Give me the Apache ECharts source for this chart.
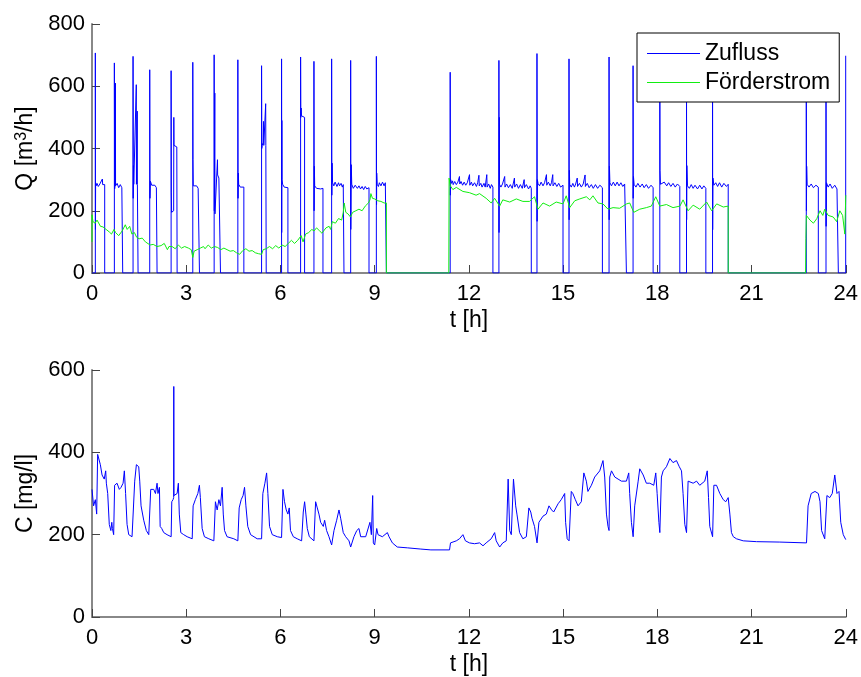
<!DOCTYPE html>
<html>
<head>
<meta charset="utf-8">
<title>Zufluss, Förderstrom und Konzentration</title>
<script src="https://cdn.jsdelivr.net/npm/echarts@6/dist/echarts.min.js"></script>
<style>
  html, body { margin: 0; padding: 0; background: #fff; }
  #chart { width: 861px; height: 677px; }
</style>
</head>
<body>
<div id="chart"></div>
<script>
// Tick values of the shared time axis and of both value axes
const timeTicks = [0, 3, 6, 9, 12, 15, 18, 21, 24];
const qTicks = [0, 200, 400, 600, 800];
const cTicks = [0, 200, 400, 600];

// Line colours of the two flow series
const seriesColors = { Zufluss: '#0000ff', 'Förderstrom': '#11ee11' };

// Zufluss [m³/h] over t [h]: pump cycles (start spike, noisy plateau, stop)
const zufluss = [
  [0, 0],
  [0.106, 0], [0.106, 707], [0.11, 140], [0.115, 290], [0.13, 280], [0.16, 288], [0.2, 278], [0.25, 286], [0.3, 280], [0.33, 302], [0.34, 284], [0.38, 278], [0.404, 284], [0.404, 0],
  [0.712, 0], [0.712, 675], [0.72, 270], [0.74, 285], [0.745, 610], [0.75, 280], [0.8, 288], [0.85, 274], [0.9, 284], [0.95, 274], [0.978, 280], [0.978, 0],
  [1.307, 0], [1.307, 696], [1.312, 240], [1.32, 345], [1.33, 285], [1.38, 282], [1.41, 605], [1.415, 285], [1.44, 520], [1.445, 285], [1.467, 280], [1.467, 0],
  [1.838, 0], [1.838, 653], [1.845, 240], [1.86, 295], [1.9, 282], [1.95, 278], [2.0, 282], [2.05, 274], [2.072, 276], [2.072, 0],
  [2.519, 0], [2.519, 650], [2.525, 260], [2.535, 195], [2.58, 190], [2.6, 200], [2.605, 500], [2.61, 410], [2.65, 405], [2.7, 405], [2.71, 400], [2.71, 0],
  [3.209, 0], [3.209, 677], [3.215, 365], [3.225, 280], [3.28, 274], [3.33, 280], [3.38, 272], [3.422, 276], [3.422, 0],
  [3.889, 0], [3.889, 701], [3.895, 200], [3.91, 578], [3.915, 190], [3.97, 195], [3.99, 195], [3.995, 364], [4.0, 315], [4.04, 305], [4.08, 302], [4.091, 300], [4.091, 0],
  [4.644, 0], [4.644, 685], [4.65, 240], [4.66, 321], [4.67, 285], [4.72, 276], [4.78, 282], [4.835, 276], [4.835, 0],
  [5.399, 0], [5.399, 666], [5.405, 400], [5.42, 410], [5.45, 420], [5.46, 487], [5.47, 410], [5.52, 405], [5.53, 544], [5.535, 410], [5.547, 405], [5.547, 0],
  [6.036, 0], [6.036, 688], [6.04, 130], [6.045, 490], [6.05, 300], [6.07, 285], [6.12, 276], [6.18, 280], [6.238, 274], [6.238, 0],
  [6.642, 0], [6.642, 694], [6.648, 500], [6.66, 530], [6.67, 505], [6.72, 503], [6.769, 500], [6.769, 0],
  [7.067, 0], [7.067, 680], [7.072, 200], [7.08, 343], [7.09, 280], [7.15, 272], [7.2, 276], [7.28, 270], [7.354, 272], [7.354, 0],
  [7.63, 0], [7.63, 688], [7.636, 250], [7.645, 353], [7.66, 290], [7.7, 280], [7.74, 292], [7.8, 278], [7.85, 290], [7.88, 280], [7.93, 288], [7.97, 276], [8.0, 284], [8.023, 280], [8.023, 0],
  [8.236, 0], [8.236, 683], [8.24, 140], [8.255, 348], [8.27, 285], [8.32, 272], [8.38, 282], [8.45, 272], [8.5, 280], [8.55, 270], [8.6, 278], [8.65, 268], [8.7, 278], [8.75, 270], [8.82, 274], [8.82, 0],
  [9.054, 0], [9.054, 696], [9.06, 220], [9.065, 321], [9.08, 285], [9.12, 278], [9.15, 290], [9.2, 280], [9.25, 292], [9.3, 280], [9.34, 290], [9.373, 285], [9.373, 0],
  [11.405, 0], [11.405, 645], [11.41, 250], [11.42, 300], [11.45, 288], [11.48, 296], [11.5, 284], [11.55, 294], [11.6, 284], [11.65, 292], [11.7, 310], [11.71, 286], [11.75, 294], [11.8, 282], [11.85, 292], [11.9, 282], [11.95, 290], [12.02, 316], [12.03, 282], [12.08, 292], [12.12, 280], [12.18, 290], [12.24, 278], [12.28, 290], [12.32, 314], [12.33, 280], [12.38, 288], [12.42, 276], [12.48, 288], [12.52, 276], [12.57, 316], [12.58, 276], [12.63, 286], [12.68, 272], [12.72, 284], [12.765, 276], [12.765, 0],
  [12.956, 0], [12.956, 683], [12.96, 130], [12.97, 500], [12.975, 285], [13.02, 276], [13.07, 286], [13.14, 310], [13.15, 276], [13.2, 286], [13.26, 274], [13.32, 284], [13.38, 272], [13.45, 305], [13.46, 276], [13.52, 286], [13.58, 272], [13.64, 284], [13.7, 272], [13.76, 300], [13.77, 274], [13.83, 284], [13.9, 270], [13.95, 280], [13.987, 272], [13.987, 0],
  [14.168, 0], [14.168, 705], [14.172, 166], [14.18, 300], [14.2, 288], [14.25, 280], [14.3, 292], [14.36, 280], [14.41, 290], [14.47, 316], [14.48, 282], [14.53, 292], [14.59, 280], [14.63, 290], [14.67, 316], [14.68, 280], [14.74, 290], [14.8, 278], [14.86, 288], [14.92, 276], [14.997, 282], [14.997, 0],
  [15.188, 0], [15.188, 688], [15.192, 171], [15.2, 330], [15.21, 285], [15.26, 276], [15.31, 288], [15.36, 276], [15.4, 286], [15.45, 305], [15.46, 278], [15.52, 288], [15.58, 276], [15.64, 286], [15.7, 315], [15.71, 278], [15.77, 288], [15.83, 274], [15.9, 284], [15.96, 272], [16.03, 284], [16.1, 272], [16.17, 282], [16.251, 274], [16.251, 0],
  [16.463, 0], [16.463, 694], [16.467, 171], [16.475, 343], [16.49, 290], [16.54, 280], [16.6, 292], [16.66, 280], [16.72, 292], [16.78, 280], [16.84, 290], [16.9, 278], [16.96, 286], [17.016, 280], [17.016, 0],
  [17.228, 0], [17.228, 666], [17.232, 240], [17.24, 310], [17.26, 285], [17.32, 276], [17.38, 288], [17.45, 276], [17.52, 286], [17.58, 274], [17.65, 284], [17.72, 272], [17.8, 282], [17.866, 274], [17.866, 0],
  [18.079, 0], [18.079, 680], [18.085, 330], [18.1, 285], [18.16, 280], [18.22, 292], [18.3, 280], [18.36, 290], [18.43, 278], [18.5, 288], [18.57, 276], [18.64, 286], [18.716, 278], [18.716, 0],
  [18.929, 0], [18.929, 680], [18.933, 171], [18.94, 345], [18.96, 280], [19.02, 272], [19.08, 284], [19.14, 272], [19.2, 282], [19.28, 270], [19.35, 282], [19.42, 270], [19.48, 280], [19.545, 272], [19.545, 0],
  [19.758, 0], [19.758, 680], [19.762, 139], [19.77, 305], [19.8, 282], [19.86, 290], [19.92, 278], [19.98, 290], [20.05, 276], [20.12, 288], [20.2, 278], [20.257, 285], [20.257, 0],
  [22.743, 0], [22.743, 680], [22.748, 200], [22.755, 343], [22.77, 285], [22.83, 276], [22.9, 286], [22.97, 274], [23.05, 282], [23.126, 276], [23.126, 0],
  [23.371, 0], [23.371, 680], [23.375, 150], [23.385, 290], [23.44, 276], [23.5, 286], [23.57, 272], [23.65, 282], [23.72, 270], [23.764, 274], [23.764, 0],
  [23.998, 0], [23.998, 698]
];

// Förderstrom [m³/h] over t [h]
const foerderstrom = [
  [0, 100], [0, 187], [0.03, 165], [0.1, 160], [0.16, 170], [0.27, 150], [0.35, 148], [0.45, 140], [0.55, 132], [0.62, 125], [0.7, 140], [0.75, 130], [0.85, 120], [0.9, 115], [0.96, 135], [1.06, 155], [1.12, 140], [1.2, 150], [1.27, 125], [1.35, 130], [1.42, 115], [1.5, 110], [1.6, 112], [1.7, 100], [1.85, 90], [1.95, 92], [2.07, 85], [2.2, 88], [2.3, 95], [2.4, 75], [2.45, 85], [2.55, 85], [2.65, 78], [2.75, 90], [2.85, 80], [2.95, 85], [3.07, 80], [3.16, 75], [3.21, 50], [3.25, 70], [3.35, 75], [3.45, 80], [3.55, 85], [3.6, 78], [3.7, 90], [3.8, 80], [3.9, 85], [4.0, 82], [4.1, 75], [4.2, 80], [4.3, 75], [4.4, 70], [4.5, 72], [4.6, 65], [4.7, 60], [4.8, 72], [4.9, 78], [5.0, 70], [5.1, 72], [5.2, 65], [5.3, 62], [5.4, 60], [5.45, 75], [5.55, 78], [5.65, 85], [5.75, 78], [5.85, 88], [5.95, 80], [6.05, 90], [6.15, 85], [6.25, 95], [6.35, 105], [6.45, 95], [6.55, 105], [6.66, 120], [6.72, 100], [6.8, 125], [6.9, 130], [7.0, 140], [7.07, 135], [7.15, 145], [7.25, 135], [7.32, 128], [7.45, 145], [7.55, 150], [7.6, 140], [7.65, 165], [7.75, 160], [7.85, 175], [7.95, 170], [8.0, 195], [8.03, 225], [8.08, 195], [8.15, 190], [8.23, 180], [8.3, 195], [8.4, 200], [8.5, 205], [8.6, 200], [8.7, 215], [8.8, 225], [8.85, 235], [8.88, 255], [8.93, 240], [9.0, 238], [9.1, 232], [9.2, 230], [9.3, 225], [9.373, 225], [9.373, 0],
  [11.36, 0], [11.37, 305], [11.41, 280], [11.49, 268], [11.6, 275], [11.81, 262], [12.02, 258], [12.23, 250], [12.34, 255], [12.55, 240], [12.71, 225], [12.82, 240], [12.98, 215], [13.08, 235], [13.3, 228], [13.51, 238], [13.72, 230], [13.93, 230], [14.09, 245], [14.2, 205], [14.36, 225], [14.57, 215], [14.78, 228], [14.997, 222], [15.1, 248], [15.21, 210], [15.37, 232], [15.53, 238], [15.74, 245], [15.85, 235], [15.95, 248], [16.11, 225], [16.27, 222], [16.43, 205], [16.59, 210], [16.8, 208], [17.02, 222], [17.12, 225], [17.25, 195], [17.44, 205], [17.65, 210], [17.81, 215], [17.95, 245], [18.08, 215], [18.29, 220], [18.5, 210], [18.72, 215], [18.82, 235], [18.98, 200], [19.14, 218], [19.35, 205], [19.57, 228], [19.73, 200], [19.89, 222], [20.1, 212], [20.257, 215], [20.257, 0],
  [22.72, 0], [22.73, 110], [22.745, 185], [22.86, 170], [22.97, 160], [23.08, 175], [23.18, 200], [23.27, 185], [23.33, 205], [23.44, 185], [23.6, 180], [23.71, 165], [23.81, 200], [23.9, 185], [23.97, 125], [24.0, 250]
];

// Konzentration C [mg/l] over t [h]
const konzentration = [
  [0, 310], [0.05, 270], [0.106, 285], [0.149, 250], [0.18, 395], [0.266, 370], [0.32, 345], [0.39, 335], [0.436, 355], [0.457, 325], [0.5, 300], [0.55, 225], [0.6, 210], [0.63, 230], [0.65, 215], [0.69, 200], [0.72, 320], [0.797, 325], [0.87, 310], [0.925, 315], [0.99, 325], [1.03, 355], [1.07, 300], [1.116, 225], [1.17, 200], [1.275, 195], [1.328, 195], [1.36, 330], [1.413, 370], [1.488, 365], [1.52, 330], [1.562, 270], [1.647, 235], [1.73, 210], [1.807, 200], [1.87, 310], [1.966, 310], [2.02, 300], [2.072, 325], [2.1, 300], [2.147, 315], [2.17, 220], [2.22, 215], [2.285, 205], [2.39, 200], [2.52, 195], [2.54, 280], [2.58, 285], [2.6, 290], [2.604, 560], [2.61, 295], [2.657, 295], [2.71, 300], [2.75, 325], [2.78, 250], [2.827, 205], [2.92, 200], [3.03, 195], [3.19, 190], [3.22, 270], [3.29, 285], [3.37, 300], [3.42, 320], [3.45, 290], [3.507, 215], [3.58, 195], [3.72, 190], [3.88, 185], [3.93, 280], [3.985, 260], [4.04, 285], [4.09, 270], [4.144, 315], [4.18, 250], [4.22, 210], [4.3, 195], [4.516, 190], [4.644, 185], [4.686, 265], [4.75, 285], [4.81, 295], [4.857, 315], [4.9, 270], [4.96, 220], [5.05, 200], [5.26, 190], [5.4, 190], [5.44, 300], [5.505, 325], [5.56, 350], [5.6, 300], [5.653, 220], [5.74, 200], [5.9, 195], [6.036, 193], [6.08, 310], [6.13, 280], [6.185, 260], [6.238, 250], [6.28, 265], [6.32, 210], [6.41, 195], [6.535, 190], [6.674, 185], [6.727, 255], [6.77, 280], [6.81, 250], [6.855, 215], [6.92, 195], [7.067, 185], [7.12, 280], [7.173, 265], [7.226, 250], [7.28, 230], [7.365, 220], [7.407, 235], [7.47, 210], [7.545, 195], [7.63, 175], [7.705, 210], [7.79, 235], [7.864, 260], [7.917, 240], [8.0, 205], [8.077, 195], [8.183, 185], [8.236, 170], [8.34, 195], [8.43, 210], [8.5, 215], [8.555, 195], [8.714, 195], [8.85, 230], [8.895, 200], [8.937, 295], [8.958, 180], [9.0, 175], [9.065, 215], [9.107, 200], [9.245, 195], [9.405, 205], [9.458, 195], [9.564, 180], [9.72, 170], [10.04, 168], [10.47, 165], [10.79, 163],
  [11.384, 163], [11.415, 180], [11.6, 185], [11.7, 190], [11.81, 200], [11.89, 185], [12.02, 180], [12.18, 178], [12.34, 180], [12.45, 173], [12.55, 180], [12.71, 190], [12.82, 205], [12.87, 185], [12.98, 170], [13.08, 180], [13.19, 185], [13.25, 335], [13.3, 210], [13.35, 200], [13.42, 335], [13.49, 270], [13.53, 250], [13.615, 205], [13.72, 190], [13.83, 195], [13.91, 265], [13.97, 255], [14.01, 240], [14.09, 220], [14.17, 180], [14.23, 230], [14.36, 245], [14.465, 250], [14.55, 270], [14.635, 260], [14.7, 255], [14.84, 275], [14.94, 285], [15.05, 300], [15.08, 230], [15.13, 190], [15.19, 185], [15.26, 305], [15.31, 300], [15.39, 285], [15.475, 270], [15.58, 280], [15.66, 350], [15.74, 330], [15.79, 305], [15.9, 320], [16.006, 340], [16.166, 355], [16.27, 380], [16.325, 340], [16.38, 250], [16.43, 220], [16.463, 210], [16.485, 340], [16.54, 355], [16.645, 340], [16.75, 335], [16.857, 330], [17.016, 330], [17.09, 350], [17.12, 300], [17.175, 230], [17.23, 195], [17.28, 270], [17.39, 330], [17.44, 360], [17.55, 345], [17.65, 325], [17.76, 325], [17.887, 320], [17.95, 350], [17.994, 300], [18.05, 230], [18.08, 205], [18.13, 340], [18.185, 355], [18.29, 365], [18.4, 385], [18.5, 375], [18.61, 380], [18.7, 365], [18.77, 355], [18.82, 300], [18.875, 225], [18.93, 205], [18.98, 330], [19.14, 325], [19.25, 330], [19.35, 320], [19.51, 330], [19.59, 355], [19.63, 290], [19.67, 220], [19.76, 195], [19.8, 320], [19.885, 320], [19.99, 300], [20.1, 285], [20.18, 280], [20.257, 290], [20.31, 250], [20.36, 205], [20.42, 195], [20.52, 190], [20.735, 185], [21.16, 183], [21.9, 182], [22.75, 180],
  [22.8, 270], [22.9, 300], [23.02, 305], [23.126, 300], [23.18, 280], [23.23, 210], [23.33, 190], [23.4, 295], [23.49, 290], [23.57, 300], [23.65, 345], [23.72, 300], [23.785, 305], [23.84, 230], [23.92, 200], [24.0, 188]
];

const FONT = '"Liberation Sans", Arial, Helvetica, sans-serif';
const axisLineStyle = { color: '#888888', width: 2 };
const tickStyle = { show: true, inside: true, length: 8, lineStyle: { color: '#444444', width: 1 } };
const labelStyle = { color: '#000', fontSize: 22, fontFamily: FONT };
const nameStyle = {
  color: '#000', fontSize: 23, fontFamily: FONT,
  rich: { sup: { color: '#000', fontSize: 16, fontFamily: FONT, padding: [0, 0, 9, 0] } }
};

function timeAxis(gridIndex) {
  return {
    gridIndex: gridIndex,
    type: 'value',
    min: timeTicks[0],
    max: timeTicks[timeTicks.length - 1],
    interval: timeTicks[1] - timeTicks[0],
    name: 't [h]',
    nameLocation: 'middle',
    nameGap: 36,
    nameTextStyle: nameStyle,
    axisLine: { show: true, onZero: false, lineStyle: axisLineStyle },
    axisTick: tickStyle,
    axisLabel: Object.assign({ margin: 10 }, labelStyle),
    splitLine: { show: false }
  };
}

function valueAxis(gridIndex, ticks, name, gap) {
  return {
    gridIndex: gridIndex,
    type: 'value',
    min: ticks[0],
    max: ticks[ticks.length - 1],
    interval: ticks[1] - ticks[0],
    name: name,
    nameLocation: 'middle',
    nameGap: gap,
    nameRotate: 90,
    nameTextStyle: nameStyle,
    axisLine: { show: true, onZero: false, lineStyle: axisLineStyle },
    axisTick: tickStyle,
    axisLabel: Object.assign({ margin: 7 }, labelStyle),
    splitLine: { show: false }
  };
}

const legendNames = ['Zufluss', 'Förderstrom'];

const chart = echarts.init(document.getElementById('chart'), null, { renderer: 'canvas' });
chart.setOption({
  animation: false,
  backgroundColor: '#ffffff',
  grid: [
    { left: 92, top: 24, width: 755, height: 249 },
    { left: 92, top: 370, width: 755, height: 249 }
  ],
  xAxis: [timeAxis(0), timeAxis(1)],
  yAxis: [
    valueAxis(0, qTicks, 'Q [m{sup|3}/h]', 52),
    valueAxis(1, cTicks, 'C [mg/l]', 52)
  ],
  legend: {
    data: legendNames.map(function (n) {
      return { name: n, icon: 'rect', itemStyle: { color: seriesColors[n], borderWidth: 0, opacity: 1 } };
    }),
    orient: 'vertical',
    left: 637,
    top: 33,
    itemWidth: 53,
    itemHeight: 1,
    itemGap: 6,
    padding: [9, 9, 8, 10],
    borderColor: '#000',
    borderWidth: 1,
    borderRadius: 0,
    backgroundColor: '#ffffff',
    textStyle: { color: '#000', fontSize: 23, fontFamily: FONT }
  },
  series: [
    {
      name: 'Zufluss',
      type: 'line',
      xAxisIndex: 0,
      yAxisIndex: 0,
      data: zufluss,
      symbol: 'none',
      lineStyle: { color: seriesColors.Zufluss, width: 1 },
      itemStyle: { color: seriesColors.Zufluss }
    },
    {
      name: 'Förderstrom',
      type: 'line',
      xAxisIndex: 0,
      yAxisIndex: 0,
      data: foerderstrom,
      symbol: 'none',
      lineStyle: { color: seriesColors['Förderstrom'], width: 1 },
      itemStyle: { color: seriesColors['Förderstrom'] }
    },
    {
      name: 'C',
      type: 'line',
      xAxisIndex: 1,
      yAxisIndex: 1,
      data: konzentration,
      symbol: 'none',
      lineStyle: { color: '#0000ff', width: 1 },
      itemStyle: { color: '#0000ff' }
    }
  ]
});
</script>
</body>
</html>
